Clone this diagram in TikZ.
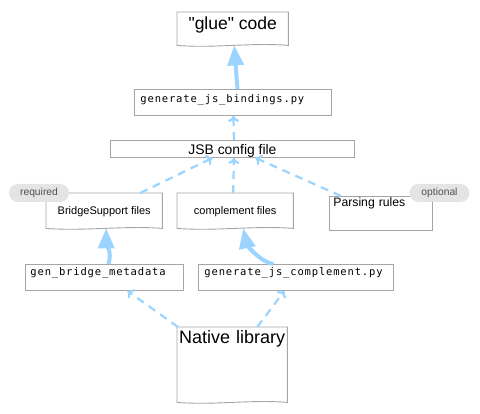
\documentclass[tikz,border=0pt]{standalone}
\usepackage{fontspec}
\setmainfont{Liberation Sans}
\newfontfamily\quotefont{Liberation Sans}
\newfontfamily\codefont[LetterSpace=8]{DejaVu Sans Mono}
\usetikzlibrary{arrows.meta,calc}
\definecolor{edgeblue}{RGB}{154,212,255}
\definecolor{boxgray}{RGB}{165,165,165}
\definecolor{pillgray}{RGB}{228,228,228}
\definecolor{pilltext}{RGB}{80,80,80}
\newcommand\docoutline[1]{%
  \draw[draw=boxgray,line width=0.9pt] (#1.north west) -- (#1.north east) -- (#1.south east)
    .. controls ($(#1.south east)!0.33!(#1.south west)+(0,-3)$) and ($(#1.south east)!0.67!(#1.south west)+(0,3)$) .. (#1.south west) -- cycle;}
\begin{document}
\begin{tikzpicture}[x=1pt,y=-1pt,
  plainbox/.style={draw=boxgray,line width=0.9pt,inner sep=0pt,anchor=north west},
  docbox/.style={inner sep=0pt,anchor=north west},
  codetext/.style={font=\codefont\fontsize{10.5}{12}\selectfont},
  dep/.style={draw=edgeblue,line width=2.2pt,dash pattern=on 8pt off 6pt,-{To[length=6pt,width=11pt]}},
  flow/.style={draw=edgeblue,line width=4pt,-{Triangle[length=20pt,width=16pt]}},
  pill/.style={fill=pillgray,rounded corners=9pt,minimum width=60pt,minimum height=18pt,inner sep=0pt,text=pilltext,font=\fontsize{10.3}{12}\selectfont}
]
\useasboundingbox (0,0) rectangle (480,414);

% nodes
\node[docbox,minimum width=111pt,minimum height=33pt,text height=17pt,text depth=16pt,
      font=\quotefont\fontsize{17.5}{20}\selectfont] (glue) at (177,12) {"glue" code};
\node[plainbox,text width=185pt,align=left,inner xsep=6pt,text height=13pt,text depth=13pt,codetext]
      (bind) at (134,89) {generate\_js\_bindings.py};
\node[plainbox,minimum width=244pt,minimum height=17pt,text height=14pt,text depth=3pt,
      font=\fontsize{13.9}{16}\selectfont] (jsb) at (110,140) {JSB config file};
\node[docbox,minimum width=116pt,minimum height=35pt,text height=21pt,text depth=14pt,
      font=\fontsize{11}{13}\selectfont] (bs) at (46,193) {BridgeSupport files};
\node[docbox,minimum width=116pt,minimum height=35pt,text height=21pt,text depth=14pt,
      font=\fontsize{11}{13}\selectfont] (comp) at (177,193) {complement files};
\node[plainbox,text width=95pt,align=left,inner xsep=4pt,text height=10pt,text depth=24pt,
      font=\fontsize{12.2}{14}\selectfont] (pr) at (329,196) {Parsing rules};
\node[plainbox,text width=148pt,align=left,inner xsep=5pt,text height=11pt,text depth=15pt,codetext]
      (gb) at (25,264) {gen\_bridge\_metadata};
\node[plainbox,text width=183pt,align=left,inner xsep=6pt,text height=11pt,text depth=15pt,codetext]
      (gjc) at (198,264) {generate\_js\_complement.py};
\node[docbox,text width=106pt,align=left,inner xsep=2pt,text height=16pt,text depth=59pt,
      font=\fontsize{18}{21}\selectfont] (native) at (177,327) {\mbox{Native library}};

\docoutline{glue}
\docoutline{bs}
\docoutline{comp}
\docoutline{native}

% pills
\node[pill] (req) at (39,193) {required};
\node[pill] (opt) at (439.5,193) {optional};

% connectors
\draw[flow] ([xshift=4.5pt]bind.north) -- ([xshift=1.5pt]glue.south);
\draw[dep] ([xshift=1.5pt]jsb.north) -- ([xshift=0.5pt]bind.south);
\draw[dep] ([xshift=36pt]bs.north) -- ([xshift=-20pt]jsb.south);
\draw[dep] ([xshift=-2pt]comp.north) -- ([xshift=1.5pt]jsb.south);
\draw[dep] ([xshift=-40pt]pr.north) -- ([xshift=23pt]jsb.south);
\draw[flow] ([xshift=4pt]gb.north) .. controls +(4,-12) and +(0,14) .. ([xshift=2pt]bs.south);
\draw[flow] ([xshift=-22.5pt]gjc.north) .. controls +(-16,-3) and +(3,14) .. ([xshift=8pt]comp.south);
\draw[dep] ([xshift=1pt]native.north west) -- ([xshift=23pt]gb.south);
\draw[dep] ([xshift=25pt]native.north) -- ([xshift=-11.5pt]gjc.south);
\end{tikzpicture}
\end{document}
